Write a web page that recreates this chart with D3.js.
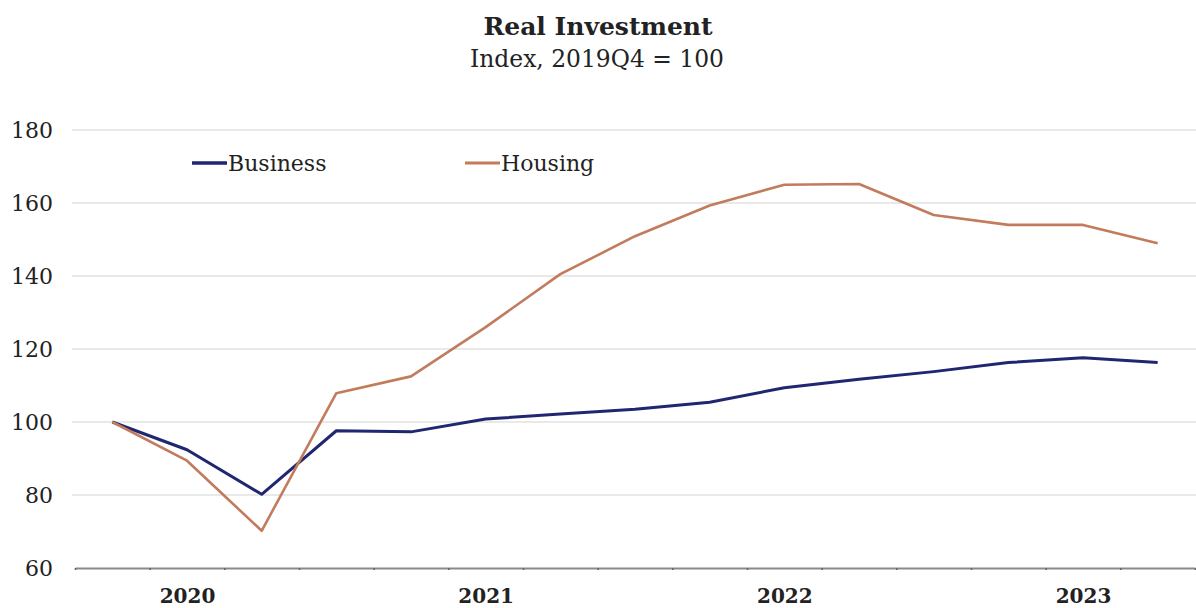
<!DOCTYPE html>
<html>
<head>
<meta charset="utf-8">
<script src="https://cdn.jsdelivr.net/npm/d3@7"></script>
<style>
  html, body { margin: 0; padding: 0; background: #fff; }
  svg { display: block; }
  text { font-family: "DejaVu Serif", "Liberation Serif", serif; fill: #222; }
</style>
</head>
<body>
<svg id="chart" width="1196" height="608"></svg>
<script>
// Quarterly real investment, indexed to 2019Q4 = 100
const quarters = ["2019Q4","2020Q1","2020Q2","2020Q3","2020Q4",
                  "2021Q1","2021Q2","2021Q3","2021Q4",
                  "2022Q1","2022Q2","2022Q3","2022Q4",
                  "2023Q1","2023Q2"];
const business = [100, 92.4, 80.2, 97.6, 97.3, 100.8, 102.2, 103.5, 105.4,
                  109.4, 111.7, 113.8, 116.3, 117.6, 116.3];
const housing  = [100, 89.4, 70.2, 107.9, 112.5, 126.0, 140.5, 150.9, 159.3,
                  165.0, 165.2, 156.7, 154.0, 154.0, 149.0];
const yearLabels = ["2020","2021","2022","2023"];
const yearLabelQuarters = ["2020Q1","2021Q1","2022Q1","2023Q1"];
const yTicks = [60, 80, 100, 120, 140, 160, 180];

const seriesNames = ["Business", "Housing"];
const seriesColors = ["#1f2770", "#c27b5c"];

const svg = d3.select("#chart");
const plotLeft = 75, plotRight = 1195, plotTop = 130, plotBottom = 568;

// x positions: each quarter sits at the centre of its own band
const x = d3.scaleLinear().domain([-0.5, quarters.length - 0.5]).range([plotLeft, plotRight]);
const y = d3.scaleLinear().domain([60, 180]).range([plotBottom, plotTop]);

// Titles
svg.append("text").attr("x", 598).attr("y", 35)
  .attr("text-anchor", "middle").attr("font-weight", "bold")
  .attr("font-size", 25).text("Real Investment");
svg.append("text").attr("x", 597).attr("y", 67)
  .attr("text-anchor", "middle").attr("font-size", 23.4)
  .attr("fill", "#333").text("Index, 2019Q4 = 100");

// Horizontal gridlines
svg.append("g").selectAll("line")
  .data(yTicks.filter(v => v > 60))
  .join("line")
  .attr("x1", 72).attr("x2", 1196)
  .attr("y1", d => y(d)).attr("y2", d => y(d))
  .attr("stroke", "#e2e2e2").attr("stroke-width", 1.5);

// y axis labels
const yAxis = d3.axisLeft(y).tickValues(yTicks).tickSize(0).tickPadding(0);
const gy = svg.append("g").attr("transform", "translate(53,0)").call(yAxis);
gy.select(".domain").remove();
gy.selectAll("text").attr("font-size", 22).attr("fill", "#333")
  .attr("font-family", "DejaVu Serif, serif");

// x axis: quarter boundary ticks
const bounds = d3.range(-0.5, quarters.length, 1);
const xAxis = d3.axisBottom(x).tickValues(bounds).tickSizeInner(-7).tickSizeOuter(0).tickFormat("");
const gx = svg.append("g").attr("transform", `translate(0,${plotBottom})`).call(xAxis);
gx.select(".domain").attr("stroke", "#8a8a8a").attr("stroke-width", 2);
gx.selectAll(".tick line").attr("stroke", "#666").attr("stroke-width", 1.6).attr("y2", 2);

// x axis: year labels under each first quarter
const xLab = d3.axisBottom(x)
  .tickValues(yearLabelQuarters.map(q => quarters.indexOf(q)))
  .tickFormat((d, i) => yearLabels[i]).tickSize(0).tickPadding(0);
const gl = svg.append("g").attr("transform", `translate(0,${plotBottom + 21})`).call(xLab);
gl.select(".domain").remove();
gl.selectAll("text").attr("font-size", 20).attr("font-weight", "bold").attr("fill", "#333")
  .attr("font-family", "DejaVu Serif, serif");

// Lines
const line = d3.line().x((d, i) => x(i)).y(d => y(d));
[business, housing].forEach((vals, k) => {
  svg.append("path").datum(vals)
    .attr("d", line)
    .attr("fill", "none")
    .attr("stroke", seriesColors[k])
    .attr("stroke-width", k === 0 ? 3 : 2.6)
    .attr("stroke-linejoin", "round");
});

// Legend
const legendX = [192, 465];
seriesNames.forEach((name, k) => {
  const g = svg.append("g").attr("transform", `translate(${legendX[k]},163)`);
  g.append("line").attr("x1", 0).attr("x2", 35).attr("y1", 0).attr("y2", 0)
    .attr("stroke", seriesColors[k]).attr("stroke-width", k === 0 ? 3.5 : 3);
  g.append("text").attr("x", 36).attr("y", 8).attr("font-size", 22).text(name);
});
</script>
</body>
</html>
